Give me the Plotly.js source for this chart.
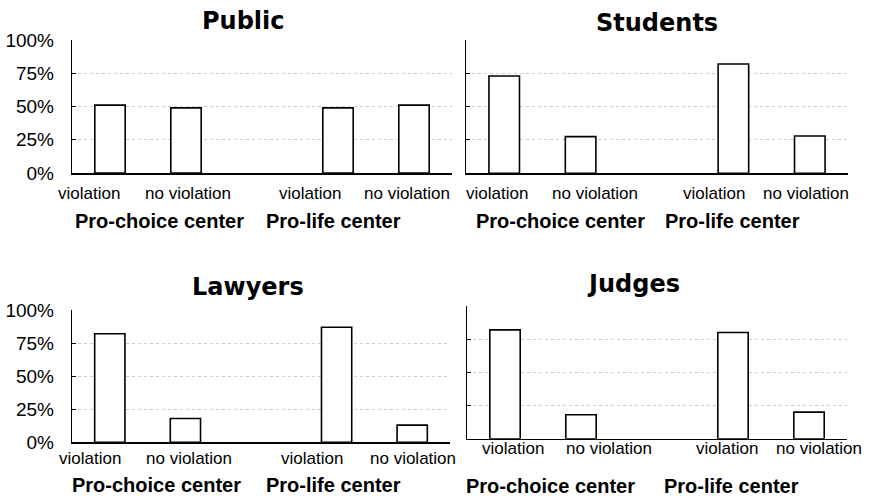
<!DOCTYPE html>
<html>
<head>
<meta charset="utf-8">
<script src="https://cdn.plot.ly/plotly-3.0.1.min.js"></script>
<style>html,body{margin:0;padding:0;background:#fff;}#chart{width:870px;height:496px;}</style>
</head>
<body>
<div id="chart"></div>
<script>
// ---- data ----
const panelNames = ['Public', 'Students', 'Lawyers', 'Judges'];
const groups = ['Pro-choice center', 'Pro-life center'];
const conditions = ['violation', 'no violation'];
// order: [pro-choice violation, pro-choice no violation, pro-life violation, pro-life no violation]
const publicVals = [51, 49, 49, 51];
const studentsVals = [73, 27.5, 82, 28];
const lawyersVals = [82, 18, 87, 13];
const judgesVals = [82, 18, 80, 20];
const yTickVals = [0, 25, 50, 75, 100];
const yTickText = ['0%', '25%', '50%', '75%', '100%'];

// ---- layout helpers ----
const W = 870, H = 496;
const px = v => v / W;
const py = v => 1 - v / H;

const panelVals = [publicVals, studentsVals, lawyersVals, judgesVals];
const panels = [
  {x0: 72, x1: 452, yTop: 40, yBot: 173, showY: true, title: [243, 21],
   catShift: [-21, 2, -28, -7], catY: 193, grpX: [159, 333], grpY: 221.5},
  {x0: 466, x1: 848, yTop: 40, yBot: 173.3, showY: false, title: [657, 23],
   catShift: [-7, 14, -19, -4], catY: 193, grpX: [560, 732], grpY: 221.5},
  {x0: 72, x1: 450, yTop: 310, yBot: 442.3, showY: true, title: [248, 287],
   catShift: [-20, 4, -25, 1], catY: 458, grpX: [156, 333], grpY: 484.5},
  {x0: 467, x1: 847, yTop: 306, yBot: 438.7, showY: false, title: [633, 284],
   catShift: [8, 28, -6, 10], catY: 448, grpX: [550, 731], grpY: 485.5}
];

const regFont = 'Liberation Sans, Arial, Helvetica, sans-serif';
const traces = [];
const layout = {
  width: W, height: H,
  margin: {l: 0, r: 0, t: 0, b: 0},
  paper_bgcolor: '#fff', plot_bgcolor: 'rgba(0,0,0,0)',
  showlegend: false,
  annotations: []
};

panelVals.forEach((vals, i) => {
  const p = panels[i];
  const xn = i === 0 ? '' : String(i + 1);
  const xa = 'x' + xn, ya = 'y' + xn;
  const xs = [], labels = [];
  groups.forEach((g, gi) => conditions.forEach((c, ci) => { xs.push(gi * 3 + ci); labels.push(c); }));
  traces.push({
    type: 'bar', x: xs, y: vals, xaxis: xa, yaxis: ya, width: 0.4,
    marker: {color: '#ffffff', line: {color: '#000000', width: 1.6}},
    hoverinfo: 'skip'
  });
  layout['xaxis' + xn] = {
    domain: [px(p.x0), px(p.x1)], anchor: ya, range: [-0.5, 4.5],
    showgrid: false, zeroline: false, showline: true, linecolor: '#000', linewidth: 1.5,
    ticks: '', showticklabels: false, fixedrange: true
  };
  layout['yaxis' + xn] = {
    domain: [py(p.yBot), py(p.yTop)], anchor: xa, range: [0, 100],
    tickmode: 'array', tickvals: yTickVals, ticktext: yTickText, showticklabels: p.showY,
    tickfont: {family: regFont, size: 19, color: '#000'},
    ticks: 'inside', ticklen: 4, tickcolor: '#000', ticklabelstandoff: 13,
    showgrid: true, gridcolor: '#cccccc', griddash: 'dot', gridwidth: 1,
    zeroline: false, showline: true, linecolor: '#000', linewidth: 1.2, fixedrange: true
  };
  // panel title
  layout.annotations.push({
    text: panelNames[i], xref: 'paper', yref: 'paper', x: px(p.title[0]), y: py(p.title[1]),
    xanchor: 'center', yanchor: 'middle', showarrow: false,
    font: {family: 'DejaVu Sans, sans-serif', size: 24, color: '#000', weight: 'bold'}
  });
  // condition labels under bars
  xs.forEach((xv, k) => {
    layout.annotations.push({
      text: labels[k], xref: xa, yref: 'paper', x: xv, xshift: p.catShift[k], y: py(p.catY),
      xanchor: 'center', yanchor: 'middle', showarrow: false,
      font: {family: regFont, size: 17, color: '#000'}
    });
  });
  // group labels
  groups.forEach((g, gi) => {
    layout.annotations.push({
      text: '<b>' + g + '</b>', xref: 'paper', yref: 'paper', x: px(p.grpX[gi]), y: py(p.grpY),
      xanchor: 'center', yanchor: 'middle', showarrow: false,
      font: {family: regFont, size: 20, color: '#000'}
    });
  });
});

Plotly.newPlot('chart', traces, layout, {displayModeBar: false, staticPlot: true});
</script>
</body>
</html>
